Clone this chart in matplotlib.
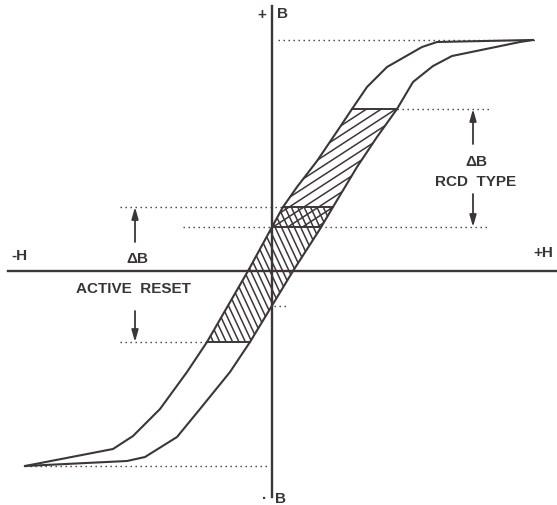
import numpy as np
import matplotlib
matplotlib.use("Agg")
import matplotlib.pyplot as plt
from matplotlib.patches import Polygon
from matplotlib.collections import LineCollection

# loop branches (pixel coords, y down), bottom tip -> top tip
left_x = [25, 113, 133, 160, 187, 207, 248, 272, 283, 297, 317, 340, 352, 367, 387, 422, 437, 532]
left_y = [467, 450, 437, 410, 373, 343, 272, 228, 208, 188, 162, 128, 110, 88, 68, 48, 43, 41]
right_x = [25, 127, 145, 177, 200, 230, 250, 273, 293, 320, 333, 357, 377, 397, 413, 433, 452, 520, 533]
right_y = [467, 462, 458, 438, 410, 373, 343, 305, 272, 230, 208, 168, 138, 110, 83, 67, 57, 43, 41]

# flux levels (pixel rows)
b_max = 41
b_min = 467
rcd_top = 110
rcd_bot = 228
reset_top = 208
reset_bot = 343

INK = "#3d3636"
DOT = (0, (1, 2.6))

fig = plt.figure(figsize=(5.57, 5.06), dpi=100)
ax = fig.add_axes([0, 0, 1, 1])
ax.set_xlim(0, 557)
ax.set_ylim(506, 0)
ax.axis("off")

# axes
ax.plot([271.5, 271.5], [7, 498], color=INK, lw=1.7)
ax.plot([8, 557], [272, 272], color=INK, lw=1.7)

# loop
ax.plot(left_x, left_y, color=INK, lw=1.5)
ax.plot(right_x, right_y, color=INK, lw=1.5)


def x_at(y, xs, ys):
    # branches are monotonic in y over the hatched parts
    return np.interp(y, ys[::-1], xs[::-1])


def band(y0, y1):
    ys = np.linspace(y0, y1, 40)
    xl = x_at(ys, left_x, left_y)
    xr = x_at(ys, right_x, right_y)
    pts = np.vstack([np.column_stack([xl, ys]), np.column_stack([xr[::-1], ys[::-1]])])
    return pts


def hatch(pts, angle, spacing):
    poly = Polygon(pts, closed=True, fill=False, edgecolor="none", transform=ax.transData)
    ax.add_patch(poly)
    th = np.radians(angle)
    d = np.array([np.cos(th), -np.sin(th)])
    n = np.array([np.sin(th), np.cos(th)])
    proj = pts @ n
    segs = []
    for c in np.arange(proj.min() - spacing, proj.max() + spacing, spacing):
        p = c * n
        segs.append([p - 2000 * d, p + 2000 * d])
    lc = LineCollection(segs, colors=INK, linewidths=1.1)
    lc.set_clip_path(poly)
    ax.add_collection(lc)


hatch(band(rcd_top, rcd_bot), 33, 8.0)
hatch(band(reset_top, reset_bot), 115, 5.8)

# solid level lines across the loop
for y in [rcd_top, reset_top, rcd_bot, reset_bot]:
    ax.plot([x_at(y, left_x, left_y), x_at(y, right_x, right_y)], [y, y], color=INK, lw=1.4)

# dotted guide lines
ax.plot([278, 537], [b_max, b_max], color=INK, lw=1.0, ls=DOT)
ax.plot([25, 270], [b_min, b_min], color=INK, lw=1.0, ls=DOT)
ax.plot([397, 490], [rcd_top, rcd_top], color=INK, lw=1.0, ls=DOT)
ax.plot([120, 283], [reset_top, reset_top], color=INK, lw=1.0, ls=DOT)
ax.plot([183, 272], [rcd_bot, rcd_bot], color=INK, lw=1.0, ls=DOT)
ax.plot([320, 490], [rcd_bot, rcd_bot], color=INK, lw=1.0, ls=DOT)
ax.plot([120, 207], [reset_bot, reset_bot], color=INK, lw=1.0, ls=DOT)
ax.plot([274, 288], [307, 307], color=INK, lw=1.0, ls=DOT)

# delta-B arrows
arr = dict(arrowstyle="-|>,head_length=0.7,head_width=0.2", color=INK, lw=1.3, shrinkA=0, shrinkB=0)
ax.annotate("", xy=(135, reset_top), xytext=(135, 243), arrowprops=arr)
ax.annotate("", xy=(135, reset_bot), xytext=(135, 312), arrowprops=arr)
ax.annotate("", xy=(473, rcd_top), xytext=(473, 145), arrowprops=arr)
ax.annotate("", xy=(473, rcd_bot), xytext=(473, 195), arrowprops=arr)

# labels
tk = dict(color="#3a3535", fontfamily="Liberation Sans", fontweight="bold", ha="center", va="center")
ax.text(137, 259, "ΔB", fontsize=11, **tk)
ax.text(133, 289, "ACTIVE  RESET", fontsize=11, **tk)
ax.text(476, 162, "ΔB", fontsize=11, **tk)
ax.text(476, 182, "RCD  TYPE", fontsize=11, **tk)
ax.text(19, 256, "-H", fontsize=11, **tk)
ax.text(543, 253, "+H", fontsize=11, **tk)
ax.text(262, 15, "+", fontsize=11, **tk)
ax.text(283, 14, "B", fontsize=11, **tk)
ax.text(265, 499, "·", fontsize=11, **tk)
ax.text(281, 499, "B", fontsize=11, **tk)

fig.savefig("out.png", dpi=100)
